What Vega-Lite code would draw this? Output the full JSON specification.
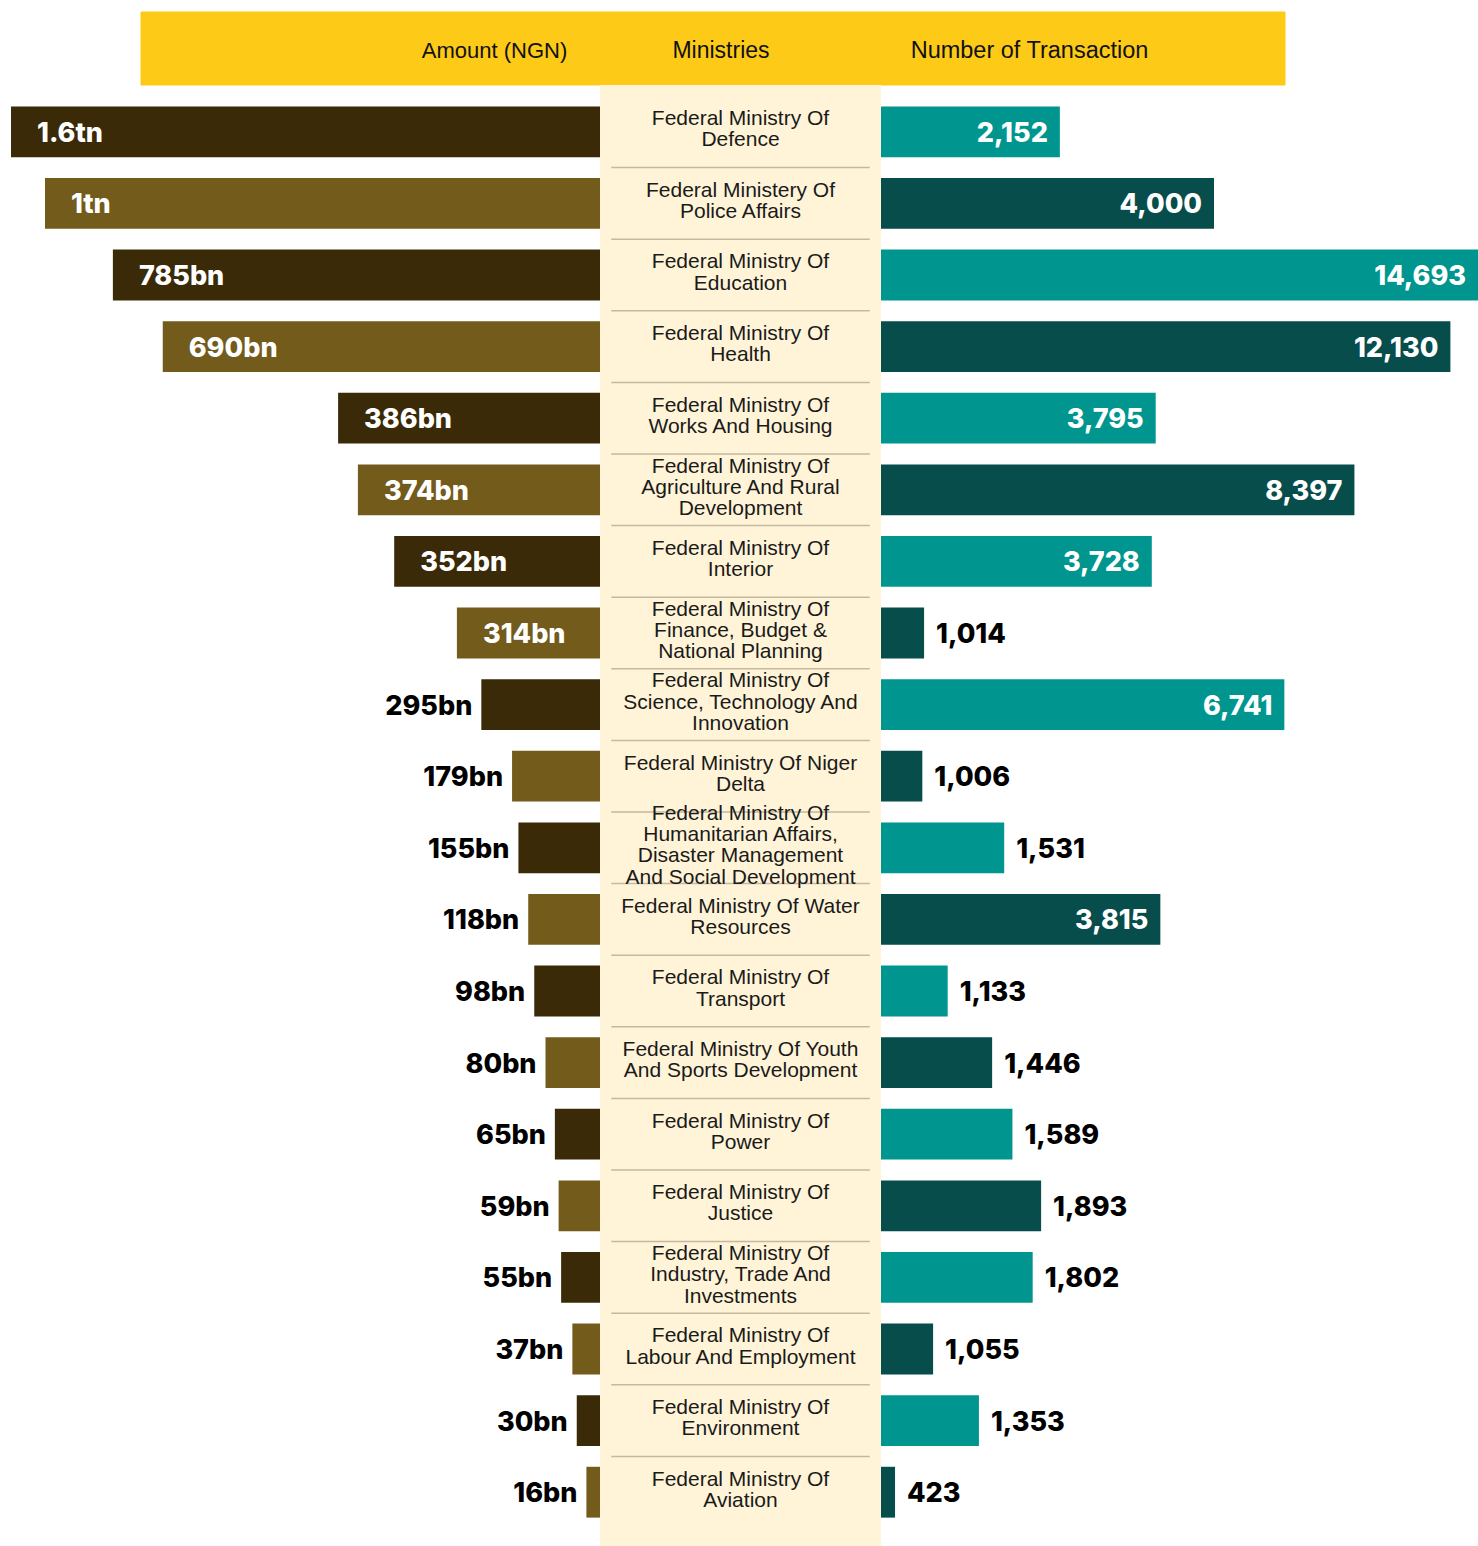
{
  "$schema": "https://vega.github.io/schema/vega-lite/v6.json",
  "width": 1478,
  "height": 1546,
  "autosize": "none",
  "padding": 0,
  "background": "white",
  "config": {"view": {"stroke": null}},
  "datasets": {
    "hdr": [
      {"col": "Amount (NGN)"},
      {"col": "Ministries"},
      {"col": "Number of Transaction"}
    ],
    "rows": [
      {"rank": 1, "ministry": "Federal Ministry Of Defence", "label": "Federal Ministry Of\nDefence", "amount_bn": 1600, "amountLabel": "1.6tn", "count": 2152},
      {"rank": 2, "ministry": "Federal Ministery Of Police Affairs", "label": "Federal Ministery Of\nPolice Affairs", "amount_bn": 1000, "amountLabel": "1tn", "count": 4000},
      {"rank": 3, "ministry": "Federal Ministry Of Education", "label": "Federal Ministry Of\nEducation", "amount_bn": 785, "amountLabel": "785bn", "count": 14693},
      {"rank": 4, "ministry": "Federal Ministry Of Health", "label": "Federal Ministry Of\nHealth", "amount_bn": 690, "amountLabel": "690bn", "count": 12130},
      {"rank": 5, "ministry": "Federal Ministry Of Works And Housing", "label": "Federal Ministry Of\nWorks And Housing", "amount_bn": 386, "amountLabel": "386bn", "count": 3795},
      {"rank": 6, "ministry": "Federal Ministry Of Agriculture And Rural Development", "label": "Federal Ministry Of\nAgriculture And Rural\nDevelopment", "amount_bn": 374, "amountLabel": "374bn", "count": 8397},
      {"rank": 7, "ministry": "Federal Ministry Of Interior", "label": "Federal Ministry Of\nInterior", "amount_bn": 352, "amountLabel": "352bn", "count": 3728},
      {"rank": 8, "ministry": "Federal Ministry Of Finance, Budget & National Planning", "label": "Federal Ministry Of\nFinance, Budget &\nNational Planning", "amount_bn": 314, "amountLabel": "314bn", "count": 1014},
      {"rank": 9, "ministry": "Federal Ministry Of Science, Technology And Innovation", "label": "Federal Ministry Of\nScience, Technology And\nInnovation", "amount_bn": 295, "amountLabel": "295bn", "count": 6741},
      {"rank": 10, "ministry": "Federal Ministry Of Niger Delta", "label": "Federal Ministry Of Niger\nDelta", "amount_bn": 179, "amountLabel": "179bn", "count": 1006},
      {"rank": 11, "ministry": "Federal Ministry Of Humanitarian Affairs, Disaster Management And Social Development", "label": "Federal Ministry Of\nHumanitarian Affairs,\nDisaster Management\nAnd Social Development", "amount_bn": 155, "amountLabel": "155bn", "count": 1531},
      {"rank": 12, "ministry": "Federal Ministry Of Water Resources", "label": "Federal Ministry Of Water\nResources", "amount_bn": 118, "amountLabel": "118bn", "count": 3815},
      {"rank": 13, "ministry": "Federal Ministry Of Transport", "label": "Federal Ministry Of\nTransport", "amount_bn": 98, "amountLabel": "98bn", "count": 1133},
      {"rank": 14, "ministry": "Federal Ministry Of Youth And Sports Development", "label": "Federal Ministry Of Youth\nAnd Sports Development", "amount_bn": 80, "amountLabel": "80bn", "count": 1446},
      {"rank": 15, "ministry": "Federal Ministry Of Power", "label": "Federal Ministry Of\nPower", "amount_bn": 65, "amountLabel": "65bn", "count": 1589},
      {"rank": 16, "ministry": "Federal Ministry Of Justice", "label": "Federal Ministry Of\nJustice", "amount_bn": 59, "amountLabel": "59bn", "count": 1893},
      {"rank": 17, "ministry": "Federal Ministry Of Industry, Trade And Investments", "label": "Federal Ministry Of\nIndustry, Trade And\nInvestments", "amount_bn": 55, "amountLabel": "55bn", "count": 1802},
      {"rank": 18, "ministry": "Federal Ministry Of Labour And Employment", "label": "Federal Ministry Of\nLabour And Employment", "amount_bn": 37, "amountLabel": "37bn", "count": 1055},
      {"rank": 19, "ministry": "Federal Ministry Of Environment", "label": "Federal Ministry Of\nEnvironment", "amount_bn": 30, "amountLabel": "30bn", "count": 1353},
      {"rank": 20, "ministry": "Federal Ministry Of Aviation", "label": "Federal Ministry Of\nAviation", "amount_bn": 16, "amountLabel": "16bn", "count": 423}
    ]
  },
  "resolve": {"scale": {"x": "independent", "y": "independent"}},
  "layer": [
    {
      "data": {"name": "hdr"},
      "encoding": {
        "x": {"field": "col", "type": "nominal", "axis": null, "scale": {"domain": ["Amount (NGN)", "Ministries", "Number of Transaction"], "range": [141, 1285], "paddingInner": 0, "paddingOuter": 0}},
        "y": {"datum": 0.5, "type": "quantitative", "axis": null, "scale": {"domain": [0, 1], "range": [12, 85], "zero": false, "nice": false}}
      },
      "layer": [
        {
          "mark": {"type": "rect", "color": "#FDCA18", "stroke": "#FDCA18", "strokeWidth": 1},
          "encoding": {"y": {"datum": 0, "type": "quantitative"}, "y2": {"datum": 1}}
        },
        {
          "transform": [{"filter": "datum.col === 'Amount (NGN)'"}],
          "mark": {"type": "text", "align": "right", "baseline": "middle", "dx": 45, "dy": 2, "font": "Liberation Sans", "fontSize": 22, "color": "#111111"},
          "encoding": {"x": {"field": "col", "type": "nominal", "bandPosition": 1}, "text": {"field": "col"}}
        },
        {
          "transform": [{"filter": "datum.col === 'Ministries'"}],
          "mark": {"type": "text", "align": "center", "baseline": "middle", "dx": 8, "dy": 2, "font": "Liberation Sans", "fontSize": 23, "color": "#111111"},
          "encoding": {"text": {"field": "col"}}
        },
        {
          "transform": [{"filter": "datum.col === 'Number of Transaction'"}],
          "mark": {"type": "text", "align": "left", "baseline": "middle", "dx": 7, "dy": 2, "font": "Liberation Sans", "fontSize": 23.5, "color": "#111111"},
          "encoding": {"x": {"field": "col", "type": "nominal", "bandPosition": 0}, "text": {"field": "col"}}
        }
      ]
    },
    {
      "data": {"values": [{"part": "Ministries"}]},
      "mark": {"type": "rect", "color": "#FFF4D8"},
      "encoding": {
        "x": {"datum": 0, "type": "quantitative", "axis": null, "scale": {"domain": [0, 1], "range": [600, 881], "zero": false, "nice": false}},
        "x2": {"datum": 1},
        "y": {"datum": 0, "type": "quantitative", "axis": null, "scale": {"domain": [0, 1], "range": [85, 1546], "zero": false, "nice": false}},
        "y2": {"datum": 1}
      }
    },
    {
      "data": {"name": "rows"},
      "encoding": {
        "y": {"field": "ministry", "type": "nominal", "axis": null, "sort": {"field": "rank", "op": "min", "order": "ascending"}, "scale": {"range": [96, 1528], "paddingInner": 0, "paddingOuter": 0}}
      },
      "resolve": {"scale": {"x": "independent"}},
      "layer": [
        {
          "encoding": {
            "x": {"field": "amount_bn", "type": "quantitative", "axis": null, "scale": {"domain": [0, 20, 100, 300, 400, 800, 1000, 1600], "range": [600, 583, 533, 480, 315, 105, 45, 11], "zero": false, "nice": false}}
          },
          "layer": [
            {
              "mark": {"type": "bar", "height": {"band": 0.71}},
              "encoding": {"color": {"condition": {"test": "datum.rank % 2 === 1", "value": "#3A2A07"}, "value": "#725B1B"}}
            },
            {
              "mark": {"type": "text", "align": "left", "baseline": "middle", "dx": 26, "dy": 2, "font": "Inter", "fontWeight": 800, "fontSize": 27, "color": "#FFFFFF"},
              "encoding": {"text": {"condition": {"test": "datum.amount_bn >= 300", "field": "amountLabel"}, "value": ""}}
            },
            {
              "mark": {"type": "text", "align": "right", "baseline": "middle", "dx": -9, "dy": 2, "font": "Inter", "fontWeight": 800, "fontSize": 27, "color": "#000000"},
              "encoding": {"text": {"condition": {"test": "datum.amount_bn < 300", "field": "amountLabel"}, "value": ""}}
            }
          ]
        },
        {
          "encoding": {
            "x": {"datum": 0.5, "type": "quantitative", "axis": null, "scale": {"domain": [0, 1], "range": [600, 881], "zero": false, "nice": false}}
          },
          "layer": [
            {
              "mark": {"type": "rule", "color": "#C2B99F", "strokeWidth": 1.5},
              "encoding": {
                "x": {"datum": 0.04, "type": "quantitative"},
                "x2": {"datum": 0.96},
                "y": {"field": "ministry", "type": "nominal", "bandPosition": 0, "sort": {"field": "rank", "op": "min", "order": "ascending"}},
                "opacity": {"condition": {"test": "datum.rank === 1", "value": 0}, "value": 1}
              }
            },
            {
              "mark": {"type": "text", "align": "center", "baseline": "middle", "lineBreak": "\n", "lineHeight": 21.3, "dy": {"expr": "-(length(split(datum.label, '\\n')) - 1) * 10.65 - 2"}, "font": "Liberation Sans", "fontSize": 21, "color": "#1A1A1A"},
              "encoding": {"text": {"field": "label"}}
            }
          ]
        },
        {
          "encoding": {
            "x": {"field": "count", "type": "quantitative", "axis": null, "scale": {"domain": [0, 400, 1000, 1100, 1600, 2000, 3800, 4000, 7000, 8000, 12000, 14693], "range": [881, 894, 921, 943, 1014, 1051, 1156, 1214, 1291, 1344, 1449, 1478], "zero": false, "nice": false}}
          },
          "layer": [
            {
              "mark": {"type": "bar", "height": {"band": 0.71}},
              "encoding": {"color": {"condition": {"test": "datum.rank % 2 === 1", "value": "#00968F"}, "value": "#074D4B"}}
            },
            {
              "mark": {"type": "text", "align": "right", "baseline": "middle", "dx": -12, "dy": 2, "font": "Inter", "fontWeight": 800, "fontSize": 27, "color": "#FFFFFF"},
              "encoding": {"text": {"condition": {"test": "datum.count >= 2000", "field": "count", "type": "quantitative", "format": ","}, "value": ""}}
            },
            {
              "mark": {"type": "text", "align": "left", "baseline": "middle", "dx": 12, "dy": 2, "font": "Inter", "fontWeight": 800, "fontSize": 27, "color": "#000000"},
              "encoding": {"text": {"condition": {"test": "datum.count < 2000", "field": "count", "type": "quantitative", "format": ","}, "value": ""}}
            }
          ]
        }
      ]
    }
  ]
}
